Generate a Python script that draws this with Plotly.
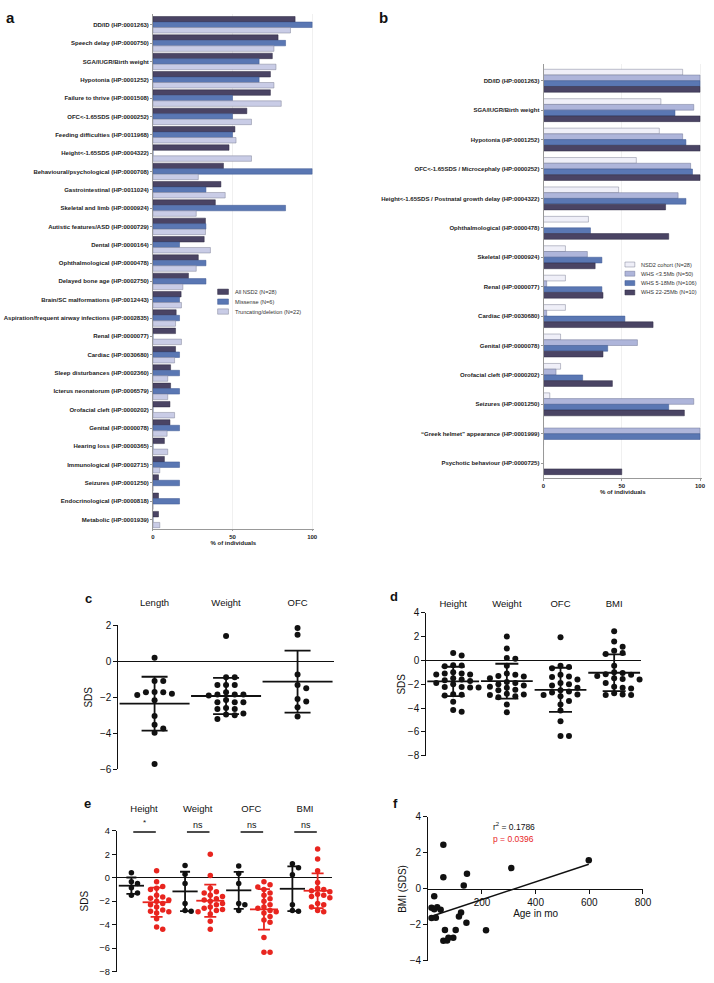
import numpy as np
import plotly.graph_objects as go

W, H = 714, 983
FONT = "Liberation Sans, Arial, sans-serif"


def px(x):
    return x / W


def py(y):
    return 1 - y / H


# ---------------- Panel a data ----------------
a_categories = [
    "DD/ID (HP:0001263)", "Speech delay (HP:0000750)", "SGA/IUGR/Birth weight",
    "Hypotonia (HP:0001252)", "Failure to thrive (HP:0001508)", "OFC&lt;-1.65SDS (HP:0000252)",
    "Feeding difficulties (HP:0011968)", "Height&lt;-1.65SDS (HP:0004322)",
    "Behavioural/psychological (HP:0000708)", "Gastrointestinal (HP:0011024)",
    "Skeletal and limb (HP:0000924)", "Autistic features/ASD (HP:0000729)", "Dental (HP:0000164)",
    "Ophthalmological (HP:0000478)", "Delayed bone age (HP:0002750)",
    "Brain/SC malformations (HP:0012443)", "Aspiration/frequent airway infections (HP:0002835)",
    "Renal (HP:0000077)", "Cardiac (HP:0030680)", "Sleep disturbances (HP:0002360)",
    "Icterus neonatorum (HP:0006579)", "Orofacial cleft (HP:0000202)", "Genital (HP:0000078)",
    "Hearing loss (HP:0000365)", "Immunological (HP:0002715)", "Seizures (HP:0001250)",
    "Endocrinological (HP:0000818)", "Metabolic (HP:0001939)",
]
a_all = [89.3, 78.6, 75.0, 73.8, 73.8, 59.0, 51.5, 47.8, 44.3, 42.7, 39.2, 33.0, 32.2, 28.5,
         22.3, 17.7, 14.6, 14.2, 14.2, 11.1, 11.1, 10.7, 10.7, 7.2, 7.2, 3.5, 3.5, 3.5]
a_missense = [100, 83.3, 66.7, 66.7, 50.0, 50.0, 50.0, 0, 100, 33.3, 83.3, 33.3, 16.7, 33.3,
              33.3, 16.7, 16.7, 0, 16.7, 16.7, 16.7, 0, 16.7, 0, 16.7, 16.7, 16.7, 0]
a_trunc = [86.4, 76.0, 77.3, 76.0, 80.6, 61.9, 52.2, 61.9, 28.5, 45.4, 27.2, 33.0, 36.1, 27.2,
           18.8, 17.9, 14.2, 17.9, 13.6, 9.3, 9.3, 13.6, 8.9, 9.3, 4.3, 0, 0, 4.3]
a_names = ["All NSD2 (N=28)", "Missense (N=6)", "Truncating/deletion (N=22)"]

# ---------------- Panel b data ----------------
b_categories = [
    "DD/ID (HP:0001263)", "SGA/IUGR/Birth weight", "Hypotonia (HP:0001252)",
    "OFC&lt;-1.65SDS / Microcephaly (HP:0000252)",
    "Height&lt;-1.65SDS / Postnatal growth delay (HP:0004322)",
    "Ophthalmological (HP:0000478)", "Skeletal (HP:0000924)", "Renal (HP:0000077)",
    "Cardiac (HP:0030680)", "Genital (HP:0000078)", "Orofacial cleft (HP:0000202)",
    "Seizures (HP:0001250)", "\u201cGreek helmet\u201d appearance (HP:0001999)",
    "Psychotic behaviour (HP:0000725)",
]
b_nsd2 = [88.9, 75.0, 74.0, 59.3, 48.0, 28.7, 14.0, 14.0, 14.0, 10.9, 10.9, 4.0, 0, 0]
b_whs_small = [100, 96.0, 88.9, 94.0, 86.0, 0, 28.0, 2.0, 2.0, 60.0, 8.0, 96.0, 100, 0]
b_whs_mid = [100, 84.0, 91.0, 95.2, 91.0, 30.0, 37.3, 37.3, 52.0, 41.0, 25.0, 80.0, 100, 0]
b_whs_large = [100, 100, 100, 100, 78.0, 80.0, 33.0, 38.0, 70.0, 38.0, 44.0, 90.0, 0, 50.0]
b_names = ["NSD2 cohort (N=28)", "WHS &lt;3.5Mb (N=50)", "WHS 5-18Mb (N=106)", "WHS 22-25Mb (N=10)"]

# ---------------- Panel c data (SDS at birth) ----------------
c_groups = ["Length", "Weight", "OFC"]
c_length = [0.2, -1.1, -1.1, -1.72, -1.87, -1.72, -1.8, -1.7, -2.16, -3.04, -3.52, -3.74, -3.97, -5.71]
c_weight = [1.41, -0.88, -0.88, -1.32, -1.32, -1.32, -1.72, -1.85, -1.85, -1.85, -1.9, -2.28, -2.28,
            -2.28, -2.15, -2.6, -2.65, -2.65, -2.9, -2.95, -3.0, -3.2]
c_ofc = [1.85, 1.48, -0.73, -1.5, -1.32, -2.23, -2.09, -2.55, -3.06]

# ---------------- Panel d data (current SDS) ----------------
d_groups = ["Height", "Weight", "OFC", "BMI"]
d_height = [0.63, 0.41, -0.4, -0.48, -0.43, -1.0, -1.1, -1.1, -1.17, -1.17, -1.5, -1.6, -1.67, -1.72,
            -1.9, -2.0, -2.22, -2.22, -2.28, -2.28, -2.83, -2.88, -2.95, -3.46, -4.16, -4.3]
d_weight = [2.0, 1.0, 0.2, 0.15, -0.45, -1.1, -1.2, -1.3, -1.35, -1.5, -1.8, -1.9, -2.0, -2.1, -2.2,
            -2.3, -2.45, -2.5, -2.8, -2.85, -2.9, -3.0, -3.1, -3.7, -4.35]
d_ofc = [1.95, -0.45, -0.55, -0.65, -1.2, -1.35, -1.4, -1.6, -1.9, -2.0, -2.1, -2.3, -2.5, -2.6, -2.7,
         -2.85, -2.9, -3.0, -3.4, -3.7, -4.2, -5.1, -6.35, -6.35]
d_bmi = [2.45, 1.6, 1.15, 0.82, 0.62, 0.55, -0.45, -1.0, -1.05, -1.15, -1.2, -1.3, -1.5, -1.55, -1.6,
         -2.2, -2.3, -2.35, -2.75, -2.85, -2.9, -2.9, -1.9]

# ---------------- Panel e data (missense vs truncating) ----------------
e_groups = ["Height", "Weight", "OFC", "BMI"]
e_sig = ["*", "ns", "ns", "ns"]
e_missense = [
    [0.42, -0.35, -0.5, -0.85, -1.3, -1.5],
    [1.05, 0.3, -0.5, -2.2, -2.8, -2.85],
    [1.0, 0.35, -0.5, -2.2, -2.3, -2.8],
    [1.2, 0.85, 0.25, -2.3, -2.85, -2.8],
]
e_trunc = [
    [0.6, -0.35, -0.75, -0.9, -1.0, -1.5, -1.65, -1.75, -1.9, -2.0, -2.2, -2.3, -2.5, -2.75, -2.85,
     -2.9, -3.0, -3.5, -4.2, -4.4],
    [2.0, 0.2, -0.9, -1.2, -1.3, -1.5, -1.8, -1.9, -2.0, -2.2, -2.3, -2.5, -2.7, -2.8, -2.9, -3.1,
     -3.7, -4.4, -1.6, -2.6],
    [-0.35, -0.6, -0.8, -1.0, -1.3, -1.5, -1.8, -2.0, -2.3, -2.5, -2.6, -2.8, -2.9, -3.0, -3.3, -3.6,
     -3.8, -5.1, -6.35, -6.35],
    [2.45, 1.6, 0.6, -0.4, -0.9, -1.0, -1.1, -1.2, -1.5, -1.6, -1.7, -2.2, -2.3, -2.5, -2.8, -2.9, -1.4],
]

# ---------------- Panel f data (BMI vs age) ----------------
f_age = [56, 56, 144, 132, 309, 598, 22, 12, 22, 33, 46, 12, 28, 122, 114, 142, 62, 102, 215, 93,
         56, 70, 75]
f_bmi = [2.45, 0.65, 0.85, 0.19, 1.16, 1.6, -0.41, -1.05, -1.13, -1.02, -1.16, -1.62, -1.6, -1.31,
         -1.53, -1.88, -2.28, -2.28, -2.3, -2.72, -2.88, -2.87, -2.72]
f_r2 = "0.1786"
f_p = "0.0396"

BLACK = "#111111"
RED = "#e8251f"

fig = go.Figure()

# ---------------- Panel a ----------------
a_y = np.arange(len(a_categories))
a_colors = ["#4a4464", "#5a77b3", "#c9cce6"]
a_lines = ["#2c2840", "#3c5790", "#7f8196"]
a_offsets = [-0.45, -0.15, 0.15]
for vals, name, col, lc, off in zip([a_all, a_missense, a_trunc], a_names, a_colors, a_lines, a_offsets):
    fig.add_trace(go.Bar(x=vals, y=a_y, orientation="h", name=name, width=0.3, offset=off,
                         marker=dict(color=col, line=dict(color=lc, width=0.5)),
                         xaxis="x", yaxis="y", showlegend=False))

# ---------------- Panel b ----------------
b_y = np.arange(len(b_categories))
b_colors = ["#efeff8", "#aeb5da", "#5a77b3", "#4a4464"]
b_lines = ["#7f8196", "#6f7594", "#3c5790", "#2c2840"]
b_offsets = [-0.39, -0.195, 0.0, 0.195]
for vals, name, col, lc, off in zip([b_nsd2, b_whs_small, b_whs_mid, b_whs_large], b_names,
                                    b_colors, b_lines, b_offsets):
    fig.add_trace(go.Bar(x=vals, y=b_y, orientation="h", name=name, width=0.195, offset=off,
                         marker=dict(color=col, line=dict(color=lc, width=0.5)),
                         xaxis="x2", yaxis="y2", showlegend=False))


# ---------------- dot-plot helpers ----------------
def swarm(vals, xpu, ypu, step, thr_y):
    vals = np.asarray(vals, dtype=float)
    order = np.argsort(-vals, kind="stable")
    placed = []
    offs = np.zeros(len(vals))
    for i in order:
        yv = vals[i] * ypu
        chosen = 0.0
        for k in [0, 1, -1, 2, -2, 3, -3, 4, -4]:
            xv = k * step
            if all(abs(xv - a) >= step * 0.95 or abs(yv - b) >= thr_y for a, b in placed):
                chosen = xv
                break
        placed.append((chosen, yv))
        offs[i] = chosen / xpu
    return offs


def dot_group(vals, center, color, xa, ya, xpu, ypu, step, size, mean_w, cap_w, thr_y):
    offs = swarm(vals, xpu, ypu, step, thr_y)
    fig.add_trace(go.Scatter(x=center + offs, y=vals, mode="markers", xaxis=xa, yaxis=ya,
                             marker=dict(color=color, size=size, line=dict(width=0)),
                             cliponaxis=False, showlegend=False))
    m = float(np.mean(vals))
    s = float(np.std(vals, ddof=1))
    fig.add_trace(go.Scatter(x=[center], y=[m], mode="markers", xaxis=xa, yaxis=ya,
                             marker=dict(symbol="line-ew", size=mean_w, color=color,
                                         line=dict(color=color, width=1.8)),
                             error_y=dict(type="data", array=[s], width=cap_w, thickness=1.8,
                                          color=color),
                             cliponaxis=False, showlegend=False))


# Panel c
for i, vals in enumerate([c_length, c_weight, c_ofc]):
    dot_group(vals, i, BLACK, "x3", "y3", 72.6, 18.2, 8.8, 6, 50, 13, 6)

# Panel d
for i, vals in enumerate([d_height, d_weight, d_ofc, d_bmi]):
    dot_group(vals, i, BLACK, "x4", "y4", 54.5, 12.06, 8.6, 6, 37, 11.5, 6)

# Panel e
for i in range(len(e_groups)):
    dot_group(e_missense[i], i - 0.235, BLACK, "x5", "y5", 54.5, 11.94, 6.2, 5.5, 18, 5, 5.5)
    dot_group(e_trunc[i], i + 0.235, RED, "x5", "y5", 54.5, 11.94, 6.2, 5.5, 20, 6, 5.5)

# Panel f
fig.add_trace(go.Scatter(x=f_age, y=f_bmi, mode="markers", xaxis="x6", yaxis="y6",
                         marker=dict(color=BLACK, size=6.5), cliponaxis=False, showlegend=False))
slope, intercept = np.polyfit(f_age, f_bmi, 1)
fx = np.array([min(f_age), max(f_age)], dtype=float)
fig.add_trace(go.Scatter(x=fx, y=slope * fx + intercept, mode="lines", xaxis="x6", yaxis="y6",
                         line=dict(color=BLACK, width=1.5), showlegend=False))

# ---------------- Layout ----------------
bar_ytick = dict(family=FONT, size=6.0, color="#222", weight="bold")
bar_xtick = dict(family=FONT, size=6.0, color="#222", weight="bold")
dot_tick = dict(family=FONT, size=10, color="#111")

layout = dict(
    width=W, height=H, margin=dict(l=0, r=0, t=0, b=0),
    paper_bgcolor="white", plot_bgcolor="white", showlegend=False, barmode="overlay",
    font=dict(family=FONT, color="#111"),
    # panel a
    xaxis=dict(domain=[px(153.3), px(316.6)], range=[0, 101], anchor="y", tickvals=[0, 50, 100],
               ticks="outside", ticklen=2, tickcolor="#999", showline=True, linecolor="#999",
               linewidth=0.8, showgrid=True, gridcolor="#f0f0f0", zeroline=False, tickfont=bar_xtick,
               title=dict(text="% of individuals", font=bar_xtick, standoff=0)),
    yaxis=dict(domain=[py(529), py(8)], range=[27.485, -0.593], anchor="x", tickvals=list(a_y),
               ticktext=a_categories, ticks="outside", ticklen=2, tickcolor="#999", showline=True,
               linecolor="#999", linewidth=0.8, showgrid=False, zeroline=False, tickfont=bar_ytick),
    # panel b
    xaxis2=dict(domain=[px(550), px(711)], range=[0, 101.3], anchor="y2", tickvals=[0, 50, 100],
                ticks="outside", ticklen=2, tickcolor="#999", showline=True, linecolor="#999",
                linewidth=0.8, showgrid=True, gridcolor="#f0f0f0", zeroline=False, tickfont=bar_xtick,
                ticklabeloverflow="allow",
                title=dict(text="% of individuals", font=bar_xtick, standoff=0)),
    yaxis2=dict(domain=[py(477.7), py(59)], range=[13.5, -0.56], anchor="x2", tickvals=list(b_y),
                ticktext=b_categories, ticks="outside", ticklen=2, tickcolor="#999", showline=True,
                linecolor="#999", linewidth=0.8, showgrid=False, zeroline=False, tickfont=bar_ytick),
)


def dot_axes(xdom, ydom, xrange, yrange, ytickvals, cats, catpos, standoff, xa, ya, tfont, tstand):
    xaxis = dict(domain=xdom, range=xrange, anchor=ya, side="top", showline=False, ticks="",
                 tickvals=catpos, ticktext=cats, showgrid=False, zeroline=False,
                 tickfont=dict(family=FONT, size=9.5, color="#111"), ticklabelstandoff=standoff)
    yaxis = dict(domain=ydom, range=yrange, anchor=xa, tickvals=ytickvals, ticks="outside",
                 ticklen=4, tickwidth=1.3, tickcolor=BLACK, showline=True, linecolor=BLACK,
                 linewidth=1.3, showgrid=False, zeroline=True, zerolinecolor=BLACK,
                 zerolinewidth=1.3, tickfont=tfont,
                 title=dict(text="SDS", font=dict(family=FONT, size=10), standoff=tstand))
    return xaxis, yaxis


layout["xaxis3"], layout["yaxis3"] = dot_axes([px(118.3), px(337)], [py(772.7), py(627)], [-0.505, 2.507],
                                              [-6, 2], [2, 0, -2, -4, -6], c_groups, [0, 1, 2], 16, "x3", "y3",
                                              dot_tick, 5)
layout["xaxis4"], layout["yaxis4"] = dot_axes([px(431), px(649)], [py(759), py(614.3)], [-0.5, 3.5],
                                              [-8, 4], [4, 2, 0, -2, -4, -6, -8], d_groups, [0, 1, 2, 3], 3,
                                              "x4", "y4", dot_tick, 0)
layout["xaxis5"], layout["yaxis5"] = dot_axes([px(116.7), px(335)], [py(977.5), py(835)], [-0.505, 3.5],
                                              [-8, 4], [4, 2, 0, -2, -4, -6, -8], e_groups, [0, 1, 2, 3], 16,
                                              "x5", "y5", dict(family=FONT, size=9.3, color="#111"), 8)

# panel f
layout["xaxis6"] = dict(domain=[px(433), px(651)], range=[0, 800], anchor="free", position=py(893.8),
                        tickvals=[200, 400, 600, 800], ticks="outside", ticklen=4, tickwidth=1.3,
                        tickcolor=BLACK, showline=True, linecolor=BLACK, linewidth=1.3, showgrid=False,
                        zeroline=False, tickfont=dot_tick,
                        title=dict(text="Age in mo", font=dict(family=FONT, size=10), standoff=2))
layout["yaxis6"] = dict(domain=[py(966.7), py(821)], range=[-4, 4], anchor="x6", tickvals=[4, 2, 0, -2, -4],
                        ticks="outside", ticklen=4, tickwidth=1.3, tickcolor=BLACK, showline=True,
                        linecolor=BLACK, linewidth=1.3, showgrid=False, zeroline=False, tickfont=dot_tick,
                        title=dict(text="BMI (SDS)", font=dict(family=FONT, size=10), standoff=1))

fig.update_layout(**layout)

# ---------------- Legends (manual) ----------------
shapes = []
annotations = []
a_leg_y = [289.3, 299.3, 309.3]
for yy, name, col, lc in zip(a_leg_y, a_names, a_colors, a_lines):
    shapes.append(dict(type="rect", xref="paper", yref="paper", x0=px(219), x1=px(230),
                       y0=py(yy + 2.7), y1=py(yy - 2.7), fillcolor=col, line=dict(color=lc, width=0.5)))
    annotations.append(dict(xref="paper", yref="paper", x=px(235), y=py(yy), text=name, showarrow=False,
                            xanchor="left", yanchor="middle", font=dict(family=FONT, size=5.6, color="#333")))
b_leg_y = [261.7, 271.0, 280.5, 290.0]
for yy, name, col, lc in zip(b_leg_y, b_names, b_colors, b_lines):
    shapes.append(dict(type="rect", xref="paper", yref="paper", x0=px(632.7), x1=px(642.7),
                       y0=py(yy + 2.5), y1=py(yy - 2.5), fillcolor=col, line=dict(color=lc, width=0.5)))
    annotations.append(dict(xref="paper", yref="paper", x=px(647), y=py(yy), text=name, showarrow=False,
                            xanchor="left", yanchor="middle", font=dict(family=FONT, size=5.6, color="#333")))

# significance bars in panel e
for i, s in enumerate(e_sig):
    shapes.append(dict(type="line", xref="x5", yref="y5", x0=i - 0.2, x1=i + 0.22, y0=3.9, y1=3.9,
                       line=dict(color=BLACK, width=1.3)))
    annotations.append(dict(xref="x5", yref="paper", x=i + 0.01, y=py(826.5 if s == "*" else 829.5),
                            text=s, showarrow=False, yanchor="middle",
                            font=dict(family=FONT, size=8 if s == "*" else 9, color=BLACK)))

# panel f stats text
annotations.append(dict(xref="paper", yref="paper", x=px(497), y=py(831), text="r<sup>2</sup> = " + f_r2,
                        showarrow=False, xanchor="left", yanchor="middle",
                        font=dict(family=FONT, size=8.5, color=BLACK)))
annotations.append(dict(xref="paper", yref="paper", x=px(497), y=py(843), text="p = " + f_p,
                        showarrow=False, xanchor="left", yanchor="middle",
                        font=dict(family=FONT, size=8.5, color=RED)))

# panel letters
for letter, (lx, ly, sz) in {"a": (9, 12, 15), "b": (387, 12, 15), "c": (88, 600, 13),
                             "d": (398, 598, 13), "e": (87, 807, 13), "f": (400, 807, 13)}.items():
    annotations.append(dict(xref="paper", yref="paper", x=px(lx), y=py(ly), text="<b>" + letter + "</b>",
                            showarrow=False, xanchor="center", yanchor="middle",
                            font=dict(family=FONT, size=sz, color=BLACK)))

fig.update_layout(shapes=shapes, annotations=annotations)
fig.write_html(
    "out.html",
    config={"displayModeBar": False},
    post_script="document.body.style.margin='0';document.body.style.padding='0';"
                "document.body.style.overflow='hidden';",
)
